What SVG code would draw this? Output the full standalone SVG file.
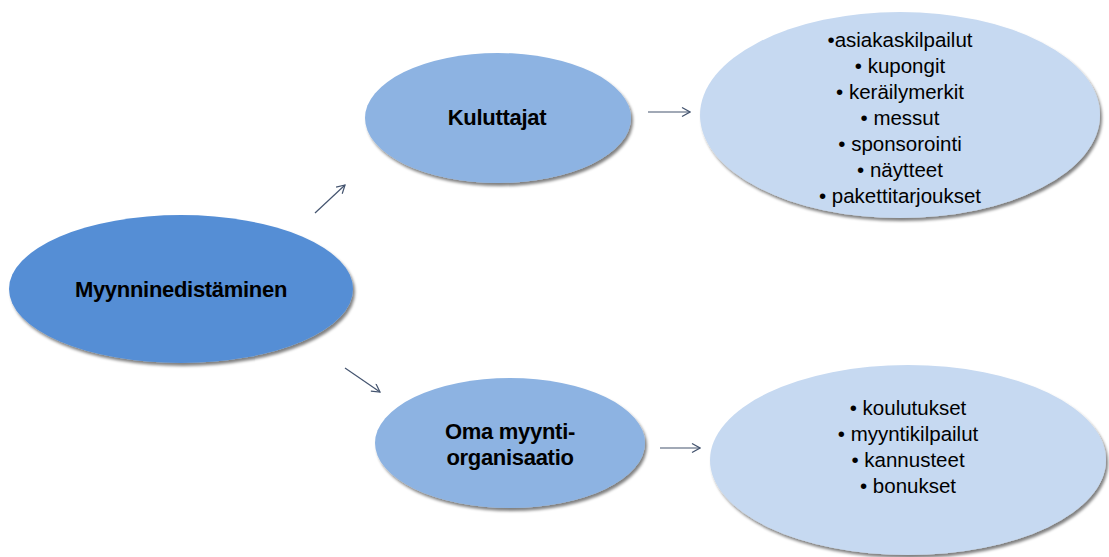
<svg xmlns="http://www.w3.org/2000/svg" width="1109" height="557" viewBox="0 0 1109 557">
  <style>
    .title { font-family: "Liberation Sans", Arial, sans-serif; font-weight: bold; font-size: 22px; letter-spacing: -0.3px; fill: #000; text-anchor: middle; }
    .item { font-family: "Liberation Sans", Arial, sans-serif; font-size: 20.5px; fill: #000; text-anchor: middle; }
    .edge { stroke: #44546f; stroke-width: 1.2; fill: none; marker-end: url(#chev); }
    .dark { fill: #558ed5; filter: url(#shadow); }
    .mid { fill: #8db3e2; filter: url(#shadow); }
    .light { fill: #c6d9f1; filter: url(#shadow); }
  </style>
  <defs>
    <filter id="shadow" x="-10%" y="-10%" width="125%" height="130%">
      <feGaussianBlur in="SourceAlpha" stdDeviation="1.8"/>
      <feOffset dx="2" dy="3" result="b"/>
      <feComponentTransfer><feFuncA type="linear" slope="0.5"/></feComponentTransfer>
      <feMerge><feMergeNode/><feMergeNode in="SourceGraphic"/></feMerge>
    </filter>
    <marker id="chev" viewBox="0 0 10 10" refX="9" refY="5" markerWidth="10" markerHeight="10" markerUnits="userSpaceOnUse" orient="auto">
      <path d="M1,0.5 L9,5 L1,9.5" fill="none" stroke="#44546f" stroke-width="1.2"/>
    </marker>
  </defs>

  <rect width="1109" height="557" fill="#fff"/>

  <g id="connectors">
    <line class="edge" x1="315" y1="213" x2="345" y2="185"/>
    <line class="edge" x1="345" y1="368" x2="380" y2="392"/>
    <line class="edge" x1="648" y1="112" x2="690" y2="112"/>
    <line class="edge" x1="660" y1="448" x2="700" y2="448"/>
  </g>

  <g id="myynninedistaminen">
    <ellipse class="dark" cx="181" cy="289" rx="172" ry="74"/>
    <text class="title" x="181" y="297">Myynninedistäminen</text>
  </g>

  <g id="kuluttajat">
    <ellipse class="mid" cx="498" cy="118" rx="133" ry="65"/>
    <text class="title" x="497" y="125">Kuluttajat</text>
  </g>

  <g id="oma-myyntiorganisaatio">
    <ellipse class="mid" cx="510" cy="443" rx="135" ry="65"/>
    <text class="title" x="510" y="439">Oma myynti-</text>
    <text class="title" x="510" y="465">organisaatio</text>
  </g>

  <g id="kuluttajat-keinot">
    <ellipse class="light" cx="900" cy="115" rx="200" ry="103"/>
    <text class="item" x="900" y="47">•asiakaskilpailut</text>
    <text class="item" x="900" y="73">• kupongit</text>
    <text class="item" x="900" y="99">• keräilymerkit</text>
    <text class="item" x="900" y="125">• messut</text>
    <text class="item" x="900" y="151">• sponsorointi</text>
    <text class="item" x="900" y="177">• näytteet</text>
    <text class="item" x="900" y="203">• pakettitarjoukset</text>
  </g>

  <g id="myyntiorganisaatio-keinot">
    <ellipse class="light" cx="908" cy="460" rx="198" ry="95"/>
    <text class="item" x="908" y="415">• koulutukset</text>
    <text class="item" x="908" y="441">• myyntikilpailut</text>
    <text class="item" x="908" y="467">• kannusteet</text>
    <text class="item" x="908" y="493">• bonukset</text>
  </g>
</svg>
